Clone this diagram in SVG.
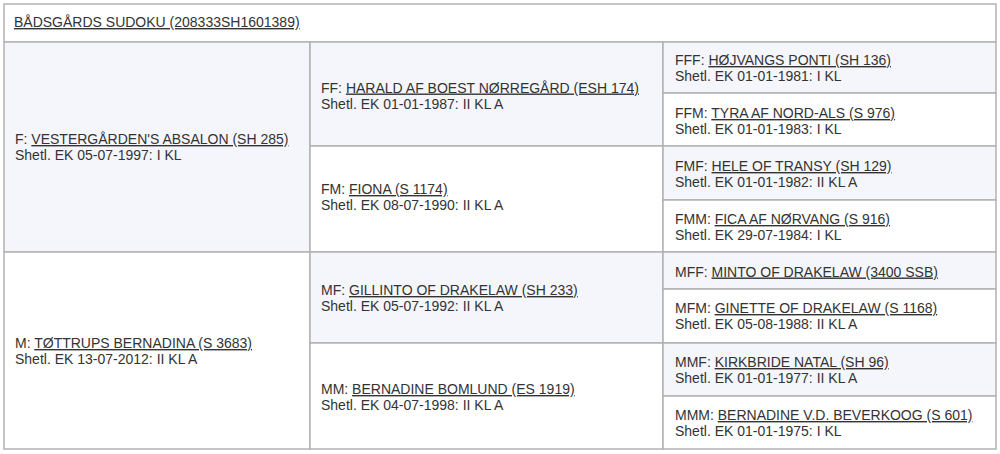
<svg xmlns="http://www.w3.org/2000/svg" width="1000" height="454" viewBox="0 0 1000 454">
<style>
rect.c{stroke:#b2b2b2;stroke-width:1.5}
rect.s{fill:#f5f6fb}
rect.w{fill:#ffffff}
text{font-family:"Liberation Sans",Arial,sans-serif;font-size:14px;fill:#333333}
tspan.u{text-decoration:underline}
</style>
<rect x="0" y="0" width="1000" height="454" fill="#ffffff"/>
<g id="title"><rect class="c w" x="4" y="4" width="992" height="38"/><text x="14" y="27"><tspan class="u">BÅDSGÅRDS SUDOKU (208333SH1601389)</tspan></text></g>
<g id="F"><rect class="c s" x="4" y="42" width="306" height="210"/><text x="15" y="144">F: <tspan class="u">VESTERGÅRDEN'S ABSALON (SH 285)</tspan></text><text x="15" y="160">Shetl. EK 05-07-1997: I KL</text></g>
<g id="M"><rect class="c w" x="4" y="252" width="306" height="197"/><text x="15" y="348">M: <tspan class="u">TØTTRUPS BERNADINA (S 3683)</tspan></text><text x="15" y="364">Shetl. EK 13-07-2012: II KL A</text></g>
<g id="FF"><rect class="c s" x="310" y="42" width="353" height="104"/><text x="321" y="92.5">FF: <tspan class="u">HARALD AF BOEST NØRREGÅRD (ESH 174)</tspan></text><text x="321" y="108.5">Shetl. EK 01-01-1987: II KL A</text></g>
<g id="FM"><rect class="c w" x="310" y="146" width="353" height="106"/><text x="321" y="194">FM: <tspan class="u">FIONA (S 1174)</tspan></text><text x="321" y="210">Shetl. EK 08-07-1990: II KL A</text></g>
<g id="MF"><rect class="c s" x="310" y="252" width="353" height="91"/><text x="321" y="295">MF: <tspan class="u">GILLINTO OF DRAKELAW (SH 233)</tspan></text><text x="321" y="311">Shetl. EK 05-07-1992: II KL A</text></g>
<g id="MM"><rect class="c w" x="310" y="343" width="353" height="106"/><text x="321" y="394">MM: <tspan class="u">BERNADINE BOMLUND (ES 1919)</tspan></text><text x="321" y="410">Shetl. EK 04-07-1998: II KL A</text></g>
<g id="FFF"><rect class="c s" x="663" y="42" width="333" height="51"/><text x="675" y="65">FFF: <tspan class="u">HØJVANGS PONTI (SH 136)</tspan></text><text x="675" y="81">Shetl. EK 01-01-1981: I KL</text></g>
<g id="FFM"><rect class="c w" x="663" y="93" width="333" height="53"/><text x="675" y="118">FFM: <tspan class="u">TYRA AF NORD-ALS (S 976)</tspan></text><text x="675" y="134">Shetl. EK 01-01-1983: I KL</text></g>
<g id="FMF"><rect class="c s" x="663" y="146" width="333" height="54"/><text x="675" y="171">FMF: <tspan class="u">HELE OF TRANSY (SH 129)</tspan></text><text x="675" y="187">Shetl. EK 01-01-1982: II KL A</text></g>
<g id="FMM"><rect class="c w" x="663" y="200" width="333" height="52"/><text x="675" y="224">FMM: <tspan class="u">FICA AF NØRVANG (S 916)</tspan></text><text x="675" y="240">Shetl. EK 29-07-1984: I KL</text></g>
<g id="MFF"><rect class="c s" x="663" y="252" width="333" height="37"/><text x="675" y="276.5">MFF: <tspan class="u">MINTO OF DRAKELAW (3400 SSB)</tspan></text></g>
<g id="MFM"><rect class="c w" x="663" y="289" width="333" height="54"/><text x="675" y="313">MFM: <tspan class="u">GINETTE OF DRAKELAW (S 1168)</tspan></text><text x="675" y="329">Shetl. EK 05-08-1988: II KL A</text></g>
<g id="MMF"><rect class="c s" x="663" y="343" width="333" height="53"/><text x="675" y="367">MMF: <tspan class="u">KIRKBRIDE NATAL (SH 96)</tspan></text><text x="675" y="383">Shetl. EK 01-01-1977: II KL A</text></g>
<g id="MMM"><rect class="c w" x="663" y="396" width="333" height="53"/><text x="675" y="420">MMM: <tspan class="u">BERNADINE V.D. BEVERKOOG (S 601)</tspan></text><text x="675" y="436">Shetl. EK 01-01-1975: I KL</text></g>
<g id="connectors"></g>
</svg>
